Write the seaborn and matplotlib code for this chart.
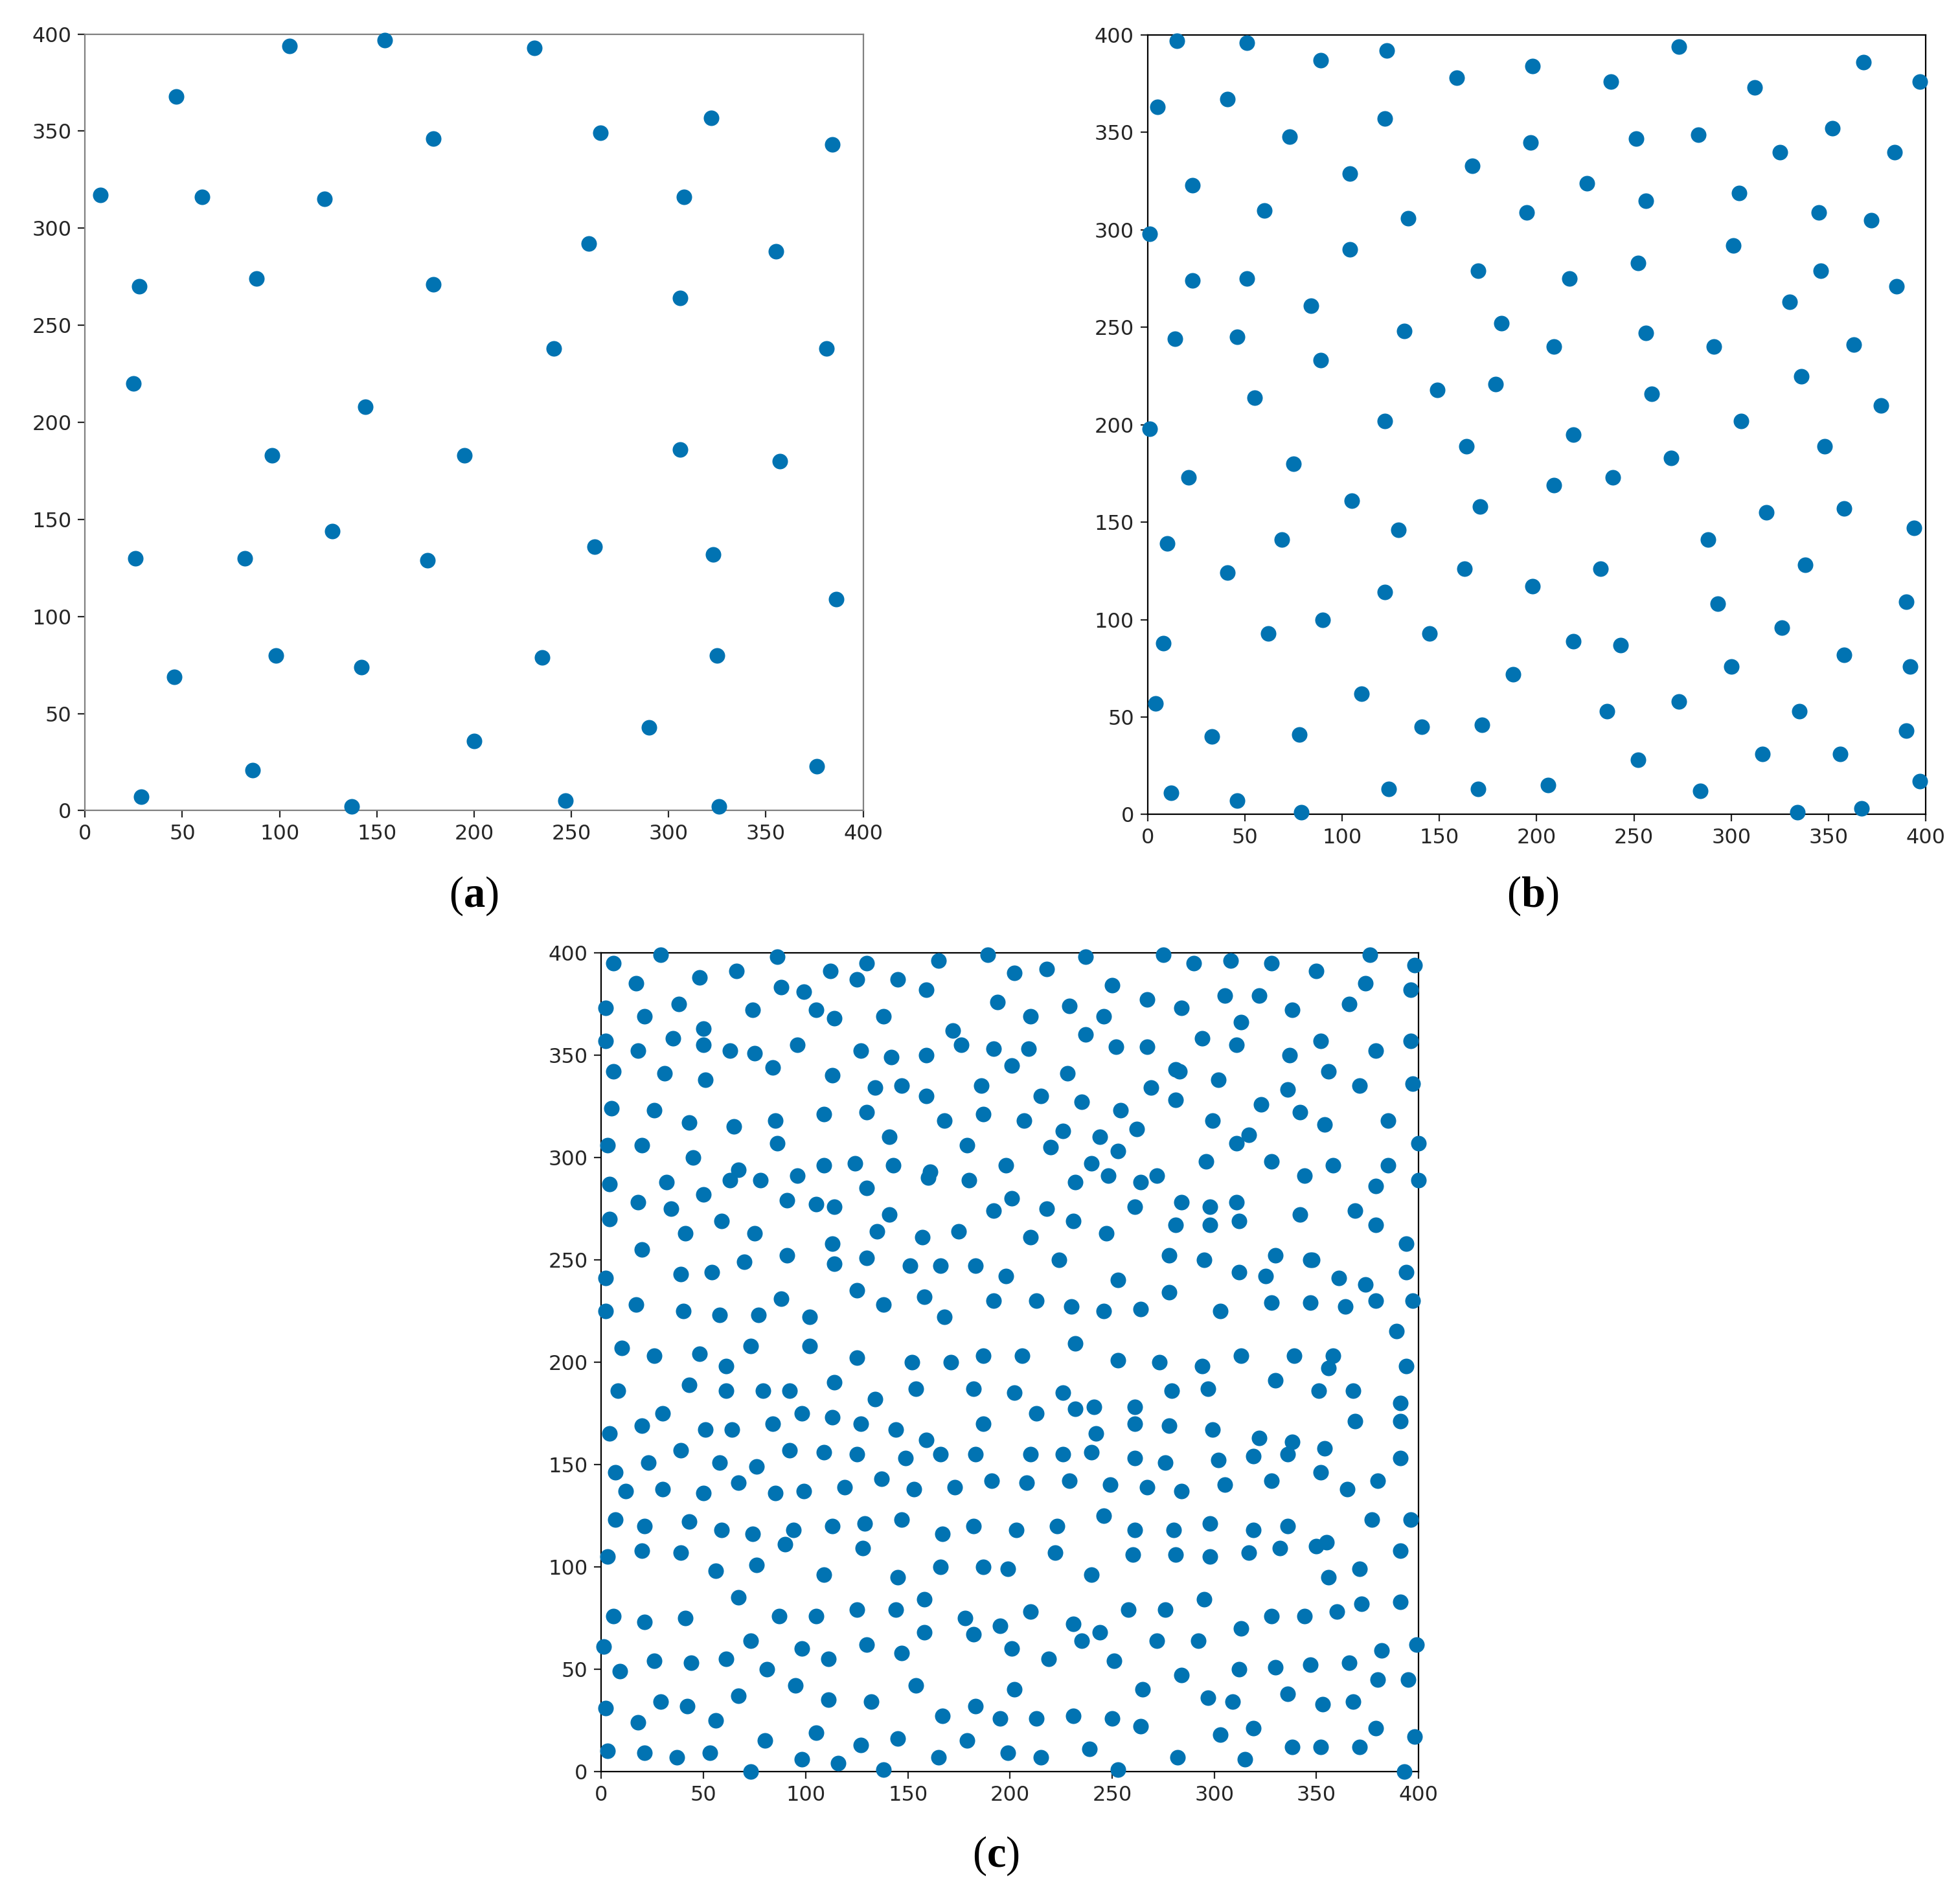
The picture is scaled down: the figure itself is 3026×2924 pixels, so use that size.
import numpy as np
import pandas as pd
import matplotlib
matplotlib.use("Agg")
import matplotlib.pyplot as plt
import seaborn as sns

sns.set_style("ticks")
plt.rcParams['mathtext.fontset'] = 'custom'
plt.rcParams['mathtext.rm'] = 'Liberation Serif'
plt.rcParams['mathtext.bf'] = 'Liberation Serif:bold'

a_x = [105,154,231,47,322,179,265,384,8,60,123,308,259,355,28,88,179,306,241,381,25,144,96,195,306,357,127,26,82,176,262,323,386,98,142,235,325,46,290,200,86,376,29,137,247,326]
a_y = [394,397,393,368,357,346,349,343,317,316,315,316,292,288,270,274,271,264,238,238,220,208,183,183,186,180,144,130,130,129,136,132,109,80,74,79,80,69,43,36,21,23,7,2,5,2]

b_pts = [(15,397),(51,396),(89,387),(123,392),(159,378),(198,384),(238,376),(273,394),(368,386),(397,376),
(5,363),(41,367),(73,348),(122,357),(197,345),(251,347),(283,349),(312,373),(352,352),(384,340),(325,340),
(23,323),(104,329),(167,333),(226,324),(1,298),(60,310),(134,306),(195,309),(256,315),(304,319),(345,309),(372,305),
(23,274),(51,275),(104,290),(170,279),(217,275),(252,283),(301,292),(346,279),(330,263),(385,271),
(14,244),(46,245),(84,261),(132,248),(182,252),(209,240),(256,247),(291,240),(363,241),(89,233),
(55,214),(149,218),(179,221),(259,216),(336,225),(377,210),(1,198),(122,202),(219,195),(164,189),(269,183),(305,202),(348,189),
(21,173),(75,180),(209,169),(239,173),(105,161),(171,158),(318,155),(358,157),(394,147),
(10,139),(69,141),(129,146),(288,141),(338,128),(41,124),(163,126),(233,126),(198,117),(122,114),(293,108),(390,109),
(8,88),(90,100),(62,93),(145,93),(219,89),(243,87),(326,96),(358,82),(392,76),(188,72),(300,76),(110,62),
(4,57),(236,53),(273,58),(335,53),(33,40),(78,41),(141,45),(172,46),(390,43),(252,28),(316,31),(356,31),
(12,11),(46,7),(124,13),(170,13),(206,15),(284,12),(397,17),(79,1),(334,1),(367,3)]
b_x = [p[0] for p in b_pts]
b_y = [p[1] for p in b_pts]

c_pts = [
(6,395),(29,399),(48,388),(66,391),(86,398),(99,381),(112,391),(130,395),(145,387),(165,396),(189,399),(202,390),(218,392),(237,398),(250,384),(275,399),(290,395),(308,396),(328,395),(350,391),(376,399),(398,394),
(2,373),(17,385),(21,369),(38,375),(50,363),(74,372),(88,383),(105,372),(114,368),(125,387),(138,369),(159,382),(172,362),(194,376),(210,369),(229,374),(246,369),(267,377),(284,373),(305,379),(322,379),(313,366),(338,372),(366,375),(374,385),(396,382),
(2,357),(18,352),(35,358),(50,355),(63,352),(75,351),(96,355),(113,340),(127,352),(142,349),(159,350),(176,355),(192,353),(209,353),(228,341),(237,360),(252,354),(267,354),(281,343),(294,358),(311,355),(337,350),(352,357),(356,342),(379,352),(396,357),(397,336),
(6,342),(31,341),(51,338),(84,344),(134,334),(147,335),(159,330),(186,335),(201,345),(215,330),(235,327),(254,323),(269,334),(283,342),(302,338),(336,333),(371,335),(323,326),
(5,324),(26,323),(43,317),(65,315),(85,318),(109,321),(130,322),(141,310),(168,318),(187,321),(207,318),(226,313),(244,310),(262,314),(281,328),(299,318),(317,311),(342,322),(354,316),(385,318),
(3,306),(20,306),(45,300),(67,294),(86,307),(109,296),(124,297),(143,296),(161,293),(179,306),(198,296),(220,305),(240,297),(253,303),(272,291),(296,298),(311,307),(328,298),(344,291),(358,296),(385,296),(400,307),
(4,287),(32,288),(50,282),(63,289),(78,289),(96,291),(114,276),(130,285),(141,272),(160,290),(180,289),(201,280),(218,275),(232,288),(248,291),(264,288),(284,278),(298,276),(311,278),(342,272),(369,274),(379,286),(400,289),
(4,270),(18,278),(34,275),(41,263),(59,269),(75,263),(91,279),(105,277),(113,258),(135,264),(157,261),(175,264),(192,274),(210,261),(231,269),(247,263),(261,276),(281,267),(298,267),(312,269),(330,252),(347,250),(379,267),(394,258),
(2,241),(20,255),(39,243),(54,244),(70,249),(91,252),(114,248),(130,251),(151,247),(166,247),(183,247),(198,242),(224,250),(253,240),(278,252),(295,250),(312,244),(325,242),(348,250),(361,241),(374,238),(394,244),
(2,225),(17,228),(40,225),(58,223),(77,223),(88,231),(102,222),(125,235),(138,228),(158,232),(168,222),(192,230),(213,230),(230,227),(246,225),(264,226),(278,234),(303,225),(328,229),(347,229),(364,227),(379,230),(397,230),
(10,207),(26,203),(48,204),(61,198),(73,208),(102,208),(125,202),(152,200),(171,200),(187,203),(206,203),(232,209),(253,201),(273,200),(294,198),(313,203),(339,203),(358,203),(389,215),(394,198),
(8,186),(43,189),(61,186),(79,186),(92,186),(114,190),(134,182),(154,187),(182,187),(202,185),(226,185),(241,178),(261,178),(279,186),(297,187),(330,191),(351,186),(368,186),(391,180),(356,197),
(20,169),(30,175),(51,167),(64,167),(84,170),(98,175),(113,173),(127,170),(144,167),(159,162),(187,170),(213,175),(232,177),(242,165),(261,170),(278,169),(299,167),(322,163),(338,161),(354,158),(369,171),(391,171),
(4,165),(7,146),(23,151),(39,157),(58,151),(76,149),(92,157),(109,156),(125,155),(149,153),(166,155),(183,155),(210,155),(226,155),(240,156),(261,153),(276,151),(302,152),(319,154),(336,155),(391,153),
(12,137),(30,138),(50,136),(67,141),(85,136),(99,137),(119,139),(137,143),(153,138),(173,139),(191,142),(208,141),(229,142),(249,140),(267,139),(284,137),(305,140),(328,142),(352,146),(365,138),(380,142),(396,123),
(7,123),(21,120),(43,122),(59,118),(74,116),(94,118),(113,120),(129,121),(147,123),(167,116),(182,120),(203,118),(223,120),(246,125),(261,118),(280,118),(298,121),(319,118),(336,120),(355,112),(377,123),
(3,105),(20,108),(39,107),(56,98),(76,101),(90,111),(109,96),(128,109),(145,95),(166,100),(187,100),(199,99),(222,107),(240,96),(260,106),(281,106),(298,105),(317,107),(332,109),(350,110),(371,99),(391,108),(356,95),
(6,76),(21,73),(41,75),(67,85),(87,76),(105,76),(125,79),(144,79),(158,84),(178,75),(195,71),(210,78),(231,72),(244,68),(258,79),(276,79),(295,84),(313,70),(328,76),(344,76),(360,78),(372,82),(391,83),
(1,61),(9,49),(26,54),(44,53),(61,55),(73,64),(81,50),(98,60),(111,55),(130,62),(147,58),(158,68),(182,67),(201,60),(219,55),(235,64),(251,54),(272,64),(292,64),(312,50),(330,51),(347,52),(366,53),(382,59),(399,62),
(2,31),(18,24),(29,34),(42,32),(56,25),(67,37),(95,42),(111,35),(132,34),(154,42),(167,27),(183,32),(195,26),(202,40),(213,26),(231,27),(250,26),(265,40),(284,47),(297,36),(309,34),(336,38),(353,33),(368,34),(380,45),(395,45),
(3,10),(21,9),(37,7),(53,9),(80,15),(105,19),(127,13),(145,16),(165,7),(179,15),(199,9),(215,7),(239,11),(264,22),(282,7),(303,18),(319,21),(315,6),(338,12),(352,12),(371,12),(379,21),(398,17),(73,0),(116,4),(138,1),(253,1),(393,0),(98,6)]
c_x = [p[0] for p in c_pts]
c_y = [p[1] for p in c_pts]

ticks = [0, 50, 100, 150, 200, 250, 300, 350, 400]
color = "#0173b2"

fig = plt.figure(figsize=(15.13, 14.62), dpi=200)
axa = fig.add_axes([0.0434, 0.572, 0.397, 0.410])
axb = fig.add_axes([0.5855, 0.570, 0.397, 0.4115])
axc = fig.add_axes([0.3068, 0.0647, 0.417, 0.4323])

for ax, xs, ys, lab, pos in [(axa, a_x, a_y, "a", (0.2417, 0.527)),
                             (axb, b_x, b_y, "b", (0.782, 0.527)),
                             (axc, c_x, c_y, "c", (0.508, 0.020))]:
    df = pd.DataFrame({"x": xs, "y": ys})
    sns.scatterplot(data=df, x="x", y="y", ax=ax, color=color, s=75,
                    linewidth=0, clip_on=False, zorder=3)
    ax.set_xlim(0, 400)
    ax.set_ylim(0, 400)
    ax.set_xticks(ticks)
    ax.set_yticks(ticks)
    ax.tick_params(labelsize=11.5, length=4, width=0.8)
    ax.set_xlabel("")
    ax.set_ylabel("")
    for s in ax.spines.values():
        s.set_visible(True)
        s.set_linewidth(0.8)
        s.set_color("#808080" if ax is axa else "black")
    fig.text(pos[0], pos[1], "(" + r"$\mathbf{" + lab + "}$" + ")", ha="center", va="center",
             fontsize=24, family="Liberation Serif", color="black")
fig.savefig("out.png", dpi=200)
